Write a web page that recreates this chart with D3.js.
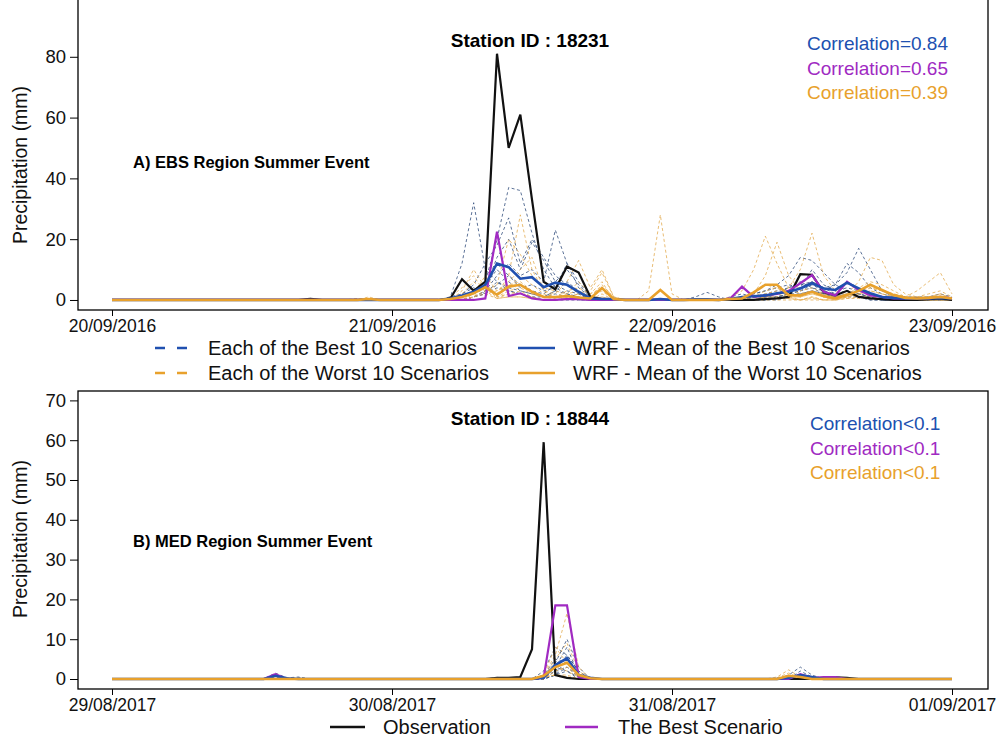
<!DOCTYPE html>
<html>
<head>
<meta charset="utf-8">
<script src="https://cdn.jsdelivr.net/npm/d3@7/dist/d3.min.js"></script>
<style>
  html, body { margin: 0; padding: 0; background: #fff; }
  svg { display: block; }
  text { font-family: 'Liberation Sans', Arial, sans-serif; }
</style>
</head>
<body>
<svg id="chart" width="997" height="740"></svg>
<script>
// ---------- data: hourly precipitation (mm), 73 hours per event ----------
const D0 = [0,0,0,0,0,0,0,0,0,0,0,0,0,0,0,0,0,0,0,0,0,0,0,0];

// Event A — station 18231, 20/09/2016 00:00 .. 23/09/2016 00:00
const dayLabelsA = ["20/09/2016", "21/09/2016", "22/09/2016", "23/09/2016"];
const yTicksA = [0, 20, 40, 60, 80];
const correlationsA = ["Correlation=0.84", "Correlation=0.65", "Correlation=0.39"];

const obsA = [].concat(
  [0,0,0,0,0,0,0,0,0,0,0,0,0,0,0,0,0,0.4,0,0,0,0,0,0],
  [0,0,0,0,0,0.5,6.8,3,6,81,50,61,33,6,3.5,11,9,1,0.3,0,0,0,0,0],
  [0,0,0,0,0,0,0,0,0.3,0.5,1,8.5,8.3,2.5,1.5,3,1,0.5,0.3,0,0,0,0.3,0.5],
  [0]);
const bestA = [].concat(
  D0,
  [0,0,0,0,0,0,0,0,0.5,22.5,1.3,2.2,0.5,0,0,0.3,0.3,0,0,0,0,0,0,0],
  [0,0,0,0,0,0.5,4.4,1,1.5,2,3,5.5,8.2,2.7,1.5,6,3.3,1.5,1,0.5,0.5,0.5,0.5,1],
  [0.5]);
const meanBestA = [].concat(
  D0,
  [0,0,0,0,0,0.5,1.5,2.7,5,12,10.8,7,7.5,4.2,5.7,5,2.7,0.5,0.3,0.3,0,0,0,0.3],
  [0,0,0.2,0.2,0,0.3,1,1.2,1.5,2.2,2.7,3.8,5.5,3.8,3.3,5.7,3.8,2.2,1,0.7,0.5,0.5,0.5,0.7],
  [0.5]);
const meanWorstA = [].concat(
  [0,0,0,0,0,0,0,0,0,0,0,0,0,0,0,0,0,0,0,0,0,0,0.3,0],
  [0,0,0,0,0,0.3,1,2.2,4.2,1.7,4.4,5,2.7,1,1,1.3,0.8,0.5,3.9,0.3,0,0,0,3.3],
  [0,0,0,0,0,0.3,0.5,2.5,5,5,1.6,1.5,2.7,1.3,0.5,1.6,3,5,3.3,1.6,0.7,0.5,0.7,1],
  [0.5]);

// ten best-scoring WRF scenarios, event A
const bestRunA1 = [].concat(D0,
  [0,0,0,0,0,1,12,32,10,6,3,2,1,0,0,0,0,0,0,0,0,0,0,0],
  [0,0,0,0,0,0,1,2,3,5,8,14,13,9,5,3,2,1,0,0,0,0,0,1], [0]);
const bestRunA2 = [].concat(D0,
  [0,0,0,0,0,0,1,3,6,20,37,36,22,10,4,2,1,0,0,0,0,0,0,0],
  [0,0,0,0,0,0,0,1,2,3,4,5,6,4,5,12,9,4,2,1,0,0,0,0], [0]);
const bestRunA3 = [].concat(D0,
  [0,0,0,0,0,0,2,5,12,18,27,12,20,14,8,5,2,0,0,0,0,0,0,0],
  [0,0,0,0,0,0,0,0,1,2,4,6,4,3,5,9,17,10,3,1,1,0,0,1], [0]);
const bestRunA4 = [].concat(D0,
  [0,0,0,0,0,0,0,1,3,8,12,8,10,6,23,12,4,1,0,0,0,0,0,0],
  [0,0,0,0,0,1,2,1,1,2,3,4,10,5,3,4,3,2,1,1,1,1,1,2], [1]);
const bestRunA5 = [].concat(D0,
  [0,0,0,0,0,0,1,2,4,14,20,10,19,13,6,10,5,1,0,0,0,0,0,0],
  [0,0,0,0,0,0,1,2,3,4,5,4,6,4,3,6,4,2,1,0,0,0,0,0], [0]);
const bestRunA6 = [].concat(D0,
  [0,0,0,0,0,0,0,1,2,5,8,4,5,3,4,12,6,1,0,0,0,0,0,0],
  [0,0,0,0,0,0,0,0,1,1,2,3,5,3,2,3,2,1,0,0,0,0,1,1], [0]);
const bestRunA7 = [].concat(D0,
  [0,0,0,0,0,0,1,3,5,10,6,3,2,1,3,6,3,1,0,0,0,0,0,0],
  [0,0,0,0,0,0,0,1,1,1,2,2,3,2,1,2,1,1,0,0,0,0,0,0], [0]);
const bestRunA8 = [].concat(D0,
  [0,0,0,0,0,0,0,1,3,12,8,5,3,2,5,3,2,0,0,0,0,0,0,0],
  [0,0,1,2.5,1,0,0,0,1,2,3,4,6,4,2,3,2,1,0,0,0,0,0,0], [0]);
const bestRunA9 = [].concat(
  [0,0,0,0,0,0,0,0,0,0,0,0,0,0,0,0,0,0.5,0,0,0,0,0,0],
  [0,0,0,0,0,1,2,4,2,6,4,3,2,1,3,2,1,0,0,0,0,0,0,0],
  [0,0,0,0,0,0,0,0,0,1,2,3,4,2,1,2,1,0,0,0,0,0,0,0], [0]);
const bestRunA10 = [].concat(D0,
  [0,0,0,0,0,0,0,1,2,4,3,2,1,1,2,1,0,0,0,0,0,0,0,0],
  [0,0,0,0,0,0,0,0,0,0,1,2,3,2,1,1,1,0,0,0,0,0,0,0], [0]);

// ten worst-scoring WRF scenarios, event A
const worstRunA1 = [].concat(
  [0,0,0,0,0,0,0,0,0,0,0,0,0,0,0,0,0,0,0,0,0,0,1,0],
  [0,0,0,0,0,0,3,10,4,2,8,28,10,3,1,1,2,3,9,1,0,0,3,28],
  [2,0,0,0,0,0,0,1,3,4,2,1,3,1,0.5,1,2,3,2,1,0.5,0,0.5,1], [0.5]);
const worstRunA2 = [].concat(
  [0,0,0,0,0,0,0,0,0,0,0,0,0,0,0,0,0,0,0,0,0,0.5,0,0],
  [0,0,0,0,0,0,2,6,3,5,20,15,8,4,3,2,6,2,4,0,0,0,0,0],
  [0,0,0,0,0,1,3,10,21,12,4,2,3,1,1,2,3,5,3,2,1,0.5,0.5,1], [0.5]);
const worstRunA3 = [].concat(D0,
  [0,0,0,0,0,1,4,8,2,3,6,10,14,3,2,6,13,4,10,1,0,0,0,0],
  [0,0,0,0,0,0,0,2,8,19,8,3,4,2,1,2,4,6,5,3,1,1,2,3], [1]);
const worstRunA4 = [].concat(D0,
  [0,0,0,0,0,0,1,3,5,2,4,8,5,2,1,3,4,2,6,0,0,0,0,0],
  [0,0,0,0,0,0,0,0,1,2,4,10,22,8,3,2,3,4,3,2,1,1,1,2], [0.5]);
const worstRunA5 = [].concat(D0,
  [0,0,0,0,0,0,0,2,8,3,5,6,3,1,1,2,3,1,5,1,0,0,0,0],
  [0,0,0,0,0,0,0,0,0,0,0,0,0,0,1,2,6,14,13,5,2,1,1,2], [0.5]);
const worstRunA6 = [].concat(D0,
  [0,0,0,0,0,0,1,3,6,1,3,4,2,1,1,1,2,1,3,0,0,0,0,0],
  [0,0,0,0,0,0,1,2,5,4,1,1,2,1,0,1,2,3,2,1,1,3,6,9], [2]);
const worstRunA7 = [].concat(D0,
  [0,0,0,0,0,0,0,1,5,0.5,2,3,1,0,0.5,1,1,0,2,0,0,0,0,0],
  [0,0,0,0,0,0,0,1,2,3,1,1,2,1,0,1,2,4,3,1,0,0,0,0], [0]);
const worstRunA8 = [].concat(D0,
  [0,0,0,0,0,0,0,2,4,1,2,2,1,0,0,1,1,0,1,0,0,0,0,0],
  [0,0,0,0,0,0,0,1,1,2,1,0,1,0,0,1,1,2,1,1,0,0,0,0], [0]);
const worstRunA9 = [].concat(D0,
  [0,0,0,0,0,0,0,1,3,0.5,1,1,0.5,0,0,0.5,1,0,1,0,0,0,0,0],
  [0,0,0,0,0,0,0,0,1,1,0.5,0,1,0,0,0.5,1,1,1,0.5,0,0,0,0], [0]);
const worstRunA10 = [].concat(D0,
  [0,0,0,0,0,0,0,1,2,0.5,1,1,0.5,0,0,0.5,0.5,0,0.5,0,0,0,0,0],
  [0,0,0,0,0,0,0,0,0.5,1,0.5,0,0.5,0,0,0.5,0.5,1,0.5,0.5,0,0,0,0], [0]);

// Event B — station 18844, 29/08/2017 00:00 .. 01/09/2017 00:00
const dayLabelsB = ["29/08/2017", "30/08/2017", "31/08/2017", "01/09/2017"];
const yTicksB = [0, 10, 20, 30, 40, 50, 60, 70];
const correlationsB = ["Correlation<0.1", "Correlation<0.1", "Correlation<0.1"];

const obsB = [].concat(D0,
  [0,0,0,0,0,0,0,0,0,0.3,0.3,0.5,7.5,59.5,1,0.3,0,0,0,0,0,0,0,0],
  [0,0,0,0,0,0,0,0,0,0,0,0,0,0,0.4,0.3,0,0,0,0,0,0,0,0], [0]);
const bestB = [].concat(
  [0,0,0,0,0,0,0,0,0,0,0,0,0,0,1.2,0,0,0,0,0,0,0,0,0],
  [0,0,0,0,0,0,0,0,0,0,0,0,0,0.3,18.5,18.5,0.5,0,0,0,0,0,0,0],
  [0,0,0,0,0,0,0,0,0,0,0,1.2,0.3,0.5,0.5,0,0,0,0,0,0,0,0,0], [0]);
const meanBestB = [].concat(
  [0,0,0,0,0,0,0,0,0,0,0,0,0,0,0.8,0.2,0,0,0,0,0,0,0,0],
  [0,0,0,0,0,0,0,0,0,0,0,0,0,0.3,3.5,5.2,1,0.3,0,0,0,0,0,0],
  [0,0,0,0,0,0,0,0,0,0,0.3,1,0.5,0,0,0,0,0,0,0,0,0,0,0], [0]);
const meanWorstB = [].concat(D0,
  [0,0,0,0,0,0,0,0,0,0,0,0,0,0.8,3,4.1,1,0.2,0,0,0,0,0,0],
  [0,0,0,0,0,0,0,0,0,0,0.8,0.5,0,0,0,0,0,0,0,0,0,0,0,0], [0]);

const bestRunB1 = [].concat(
  [0,0,0,0,0,0,0,0,0,0,0,0,0,0,1.5,0.3,0.5,0,0,0,0,0,0,0],
  [0,0,0,0,0,0,0,0,0,0,0,0,0,1,4,10,3,0,0,0,0,0,0,0],
  [0,0,0,0,0,0,0,0,0,0,1,3,1,0,0,0,0,0,0,0,0,0,0,0], [0]);
const bestRunB2 = [].concat(
  [0,0,0,0,0,0,0,0,0,0,0,0,0,0,1,0,0.3,0,0,0,0,0,0,0],
  [0,0,0,0,0,0,0,0,0,0.4,0.3,0,0,2,8,6,2,0,0,0,0,0,0,0],
  [0,0,0,0,0,0,0,0,0,0,0,2,0.5,0,0,0,0,0,0,0,0,0,0,0], [0]);
const bestRunB3 = [].concat(
  [0,0,0,0,0,0,0,0,0,0,0,0,0,0,0.5,0,0,0,0,0,0,0,0,0],
  [0,0,0,0,0,0,0,0,0,0,0,0,0,0.5,3,8,1,0,0,0,0,0,0,0],
  [0,0,0,0,0,0,0,0,0,0,0.5,1,0,0,0,0,0,0,0,0,0,0,0,0], [0]);
const bestRunB4 = [].concat(D0,
  [0,0,0,0,0,0,0,0,0,0,0,0,0,1,5,4,1,0,0,0,0,0,0,0], D0, [0]);
const bestRunB5 = [].concat(D0,
  [0,0,0,0,0,0,0,0,0,0,0,0,0,0,2,6,2,0,0,0,0,0,0,0], D0, [0]);
const bestRunB6 = [].concat(D0,
  [0,0,0,0,0,0,0,0,0,0,0,0,0,0.5,2,3,1,0,0,0,0,0,0,0], D0, [0]);
const bestRunB7 = [].concat(D0,
  [0,0,0,0,0,0,0,0,0,0,0,0,0,0,1,5,1,0,0,0,0,0,0,0], D0, [0]);
const bestRunB8 = [].concat(D0,
  [0,0,0,0,0,0,0,0,0,0,0,0,0,0,3,2,0,0,0,0,0,0,0,0], D0, [0]);
const bestRunB9 = [].concat(D0,
  [0,0,0,0,0,0,0,0,0,0,0,0,0,0,1,3,0.5,0,0,0,0,0,0,0], D0, [0]);
const bestRunB10 = [].concat(D0,
  [0,0,0,0,0,0,0,0,0,0,0,0,0,0,1,2,0.5,0,0,0,0,0,0,0], D0, [0]);

const worstRunB1 = [].concat(D0,
  [0,0,0,0,0,0,0,0,0,0,0,0,0,1,6,16.5,3,0,0,0,0,0,0,0],
  [0,0,0,0,0,0,0,0,0,0.5,2.3,0.5,0,0,0,0,0,0,0,0,0,0,0,0], [0]);
const worstRunB2 = [].concat(D0,
  [0,0,0,0,0,0,0,0,0,0,0,0,0,0.5,5,9,2,0,0,0,0,0,0,0],
  [0,0,0,0,0,0,0,0,0,0.3,1.5,0.3,0,0,0,0,0,0,0,0,0,0,0,0], [0]);
const worstRunB3 = [].concat(D0,
  [0,0,0,0,0,0,0,0,0,0,0,0,0,1,8,4,1,0,0,0,0,0,0,0],
  [0,0,0,0,0,0,0,0,0,0,1,0,0,0,0,0,0,0,0,0,0,0,0,0], [0]);
const worstRunB4 = [].concat(D0,
  [0,0,0,0,0,0,0,0,0,0,0,0,0,0.5,3,5,1,0,0,0,0,0,0,0], D0, [0]);
const worstRunB5 = [].concat(D0,
  [0,0,0,0,0,0,0,0,0,0,0,0,0,0,2,3,0.5,0,0,0,0,0,0,0], D0, [0]);
const worstRunB6 = [].concat(D0,
  [0,0,0,0,0,0,0,0,0,0,0,0,0,1,3,2,0.5,0,0,0,0,0,0,0], D0, [0]);
const worstRunB7 = [].concat(D0,
  [0,0,0,0,0,0,0,0,0,0,0,0,0,0.5,1,1,0,0,0,0,0,0,0,0], D0, [0]);
const worstRunB8 = [].concat(D0,
  [0,0,0,0,0,0,0,0,0,0,0,0,0,0.5,1,0.5,0,0,0,0,0,0,0,0], D0, [0]);
const worstRunB9 = [].concat(D0,
  [0,0,0,0,0,0,0,0,0,0,0,0,0,0.5,1,0.5,0,0,0,0,0,0,0,0], D0, [0]);
const worstRunB10 = [].concat(D0,
  [0,0,0,0,0,0,0,0,0,0,0,0,0,0.5,1,0.5,0,0,0,0,0,0,0,0], D0, [0]);

// ---------- styling ----------
const BLUE = "#2050b0", PURPLE = "#a02ac2", ORANGE = "#e8a12c", BLACK = "#111";
const BLUE_RUN = "#35507e", ORANGE_RUN = "#e4ad52";

const svg = d3.select("#chart");

function drawPanel(cfg) {
  const x = d3.scaleUtc()
    .domain([cfg.start, d3.utcHour.offset(cfg.start, cfg.obs.length - 1)])
    .range([112, 952]);
  const y = d3.scaleLinear().domain(cfg.yDomain).range([cfg.bottom, cfg.top]);
  const time = i => d3.utcHour.offset(cfg.start, i);
  const line = d3.line().x((d, i) => x(time(i))).y(d => y(d));

  const g = svg.append("g");
  const clipId = "clip-" + cfg.id;
  g.append("clipPath").attr("id", clipId)
    .append("rect").attr("x", 78).attr("y", cfg.top)
    .attr("width", 910).attr("height", cfg.bottom - cfg.top);

  const plot = g.append("g").attr("clip-path", `url(#${clipId})`);

  cfg.bestRuns.forEach(s => plot.append("path").datum(s).attr("d", line)
    .attr("fill", "none").attr("stroke", BLUE_RUN).attr("stroke-width", 1)
    .attr("stroke-dasharray", "3,2.5").attr("opacity", 0.8));
  cfg.worstRuns.forEach(s => plot.append("path").datum(s).attr("d", line)
    .attr("fill", "none").attr("stroke", ORANGE_RUN).attr("stroke-width", 1)
    .attr("stroke-dasharray", "3,2.5").attr("opacity", 0.8));

  const solid = [
    [cfg.obs, BLACK, 2.2],
    [cfg.best, PURPLE, 2.2],
    [cfg.meanBest, BLUE, 2.6],
    [cfg.meanWorst, ORANGE, 2.6]
  ];
  solid.forEach(([s, c, w]) => plot.append("path").datum(s).attr("d", line)
    .attr("fill", "none").attr("stroke", c).attr("stroke-width", w)
    .attr("stroke-linejoin", "miter"));

  // frame
  g.append("rect").attr("x", 78).attr("y", cfg.top)
    .attr("width", 910).attr("height", cfg.bottom - cfg.top)
    .attr("fill", "none").attr("stroke", "#000").attr("stroke-width", 1.3);

  // y axis
  const ya = g.append("g").attr("transform", "translate(78,0)")
    .call(d3.axisLeft(y).tickValues(cfg.yTicks).tickSize(8).tickPadding(4));
  ya.select(".domain").remove();
  ya.selectAll("line").attr("stroke", "#000").attr("stroke-width", 1);
  ya.selectAll("text").attr("font-size", 18.5).attr("fill", "#111")
    .attr("font-family", "'Liberation Sans', Arial, sans-serif");

  // x axis (one tick per day)
  const days = cfg.dayLabels.map((_, i) => d3.utcDay.offset(cfg.start, i));
  const xa = g.append("g").attr("transform", `translate(0,${cfg.bottom})`)
    .call(d3.axisBottom(x).tickValues(days).tickSize(6).tickPadding(4)
      .tickFormat((d, i) => cfg.dayLabels[i]));
  xa.select(".domain").remove();
  xa.selectAll("line").attr("stroke", "#000").attr("stroke-width", 1);
  xa.selectAll("text").attr("font-size", 17.5).attr("fill", "#111")
    .attr("font-family", "'Liberation Sans', Arial, sans-serif");

  // y title
  g.append("text")
    .attr("transform", `translate(27,${cfg.titleY}) rotate(-90)`)
    .attr("text-anchor", "middle").attr("font-size", 19.5).attr("fill", "#111")
    .text("Precipitation (mm)");

  // station title
  g.append("text").attr("x", 530).attr("y", cfg.stationY)
    .attr("text-anchor", "middle").attr("font-weight", "bold")
    .attr("font-size", 19).attr("fill", "#000").text(cfg.station);

  // event label
  g.append("text").attr("x", 133).attr("y", cfg.eventY)
    .attr("font-weight", "bold").attr("font-size", 16.5).attr("fill", "#000")
    .text(cfg.event);

  // correlations
  const corrColors = [BLUE, PURPLE, ORANGE];
  cfg.correlations.forEach((t, i) => g.append("text")
    .attr("x", cfg.corrX).attr("y", cfg.corrY + i * 24.5)
    .attr("font-size", 19).attr("fill", corrColors[i]).text(t));
}

drawPanel({
  id: "a", start: new Date(Date.UTC(2016, 8, 20)),
  top: -2, bottom: 310, yDomain: [-3.3, 99.34], yTicks: yTicksA,
  dayLabels: dayLabelsA, titleY: 165,
  station: "Station ID : 18231", stationY: 47,
  event: "A) EBS Region Summer Event", eventY: 168,
  correlations: correlationsA, corrX: 807, corrY: 50,
  obs: obsA, best: bestA, meanBest: meanBestA, meanWorst: meanWorstA,
  bestRuns: [bestRunA1, bestRunA2, bestRunA3, bestRunA4, bestRunA5,
             bestRunA6, bestRunA7, bestRunA8, bestRunA9, bestRunA10],
  worstRuns: [worstRunA1, worstRunA2, worstRunA3, worstRunA4, worstRunA5,
              worstRunA6, worstRunA7, worstRunA8, worstRunA9, worstRunA10]
});

drawPanel({
  id: "b", start: new Date(Date.UTC(2017, 7, 29)),
  top: 391, bottom: 689, yDomain: [-2.51, 72.36], yTicks: yTicksB,
  dayLabels: dayLabelsB, titleY: 539,
  station: "Station ID : 18844", stationY: 425,
  event: "B) MED Region Summer Event", eventY: 547,
  correlations: correlationsB, corrX: 810, corrY: 430,
  obs: obsB, best: bestB, meanBest: meanBestB, meanWorst: meanWorstB,
  bestRuns: [bestRunB1, bestRunB2, bestRunB3, bestRunB4, bestRunB5,
             bestRunB6, bestRunB7, bestRunB8, bestRunB9, bestRunB10],
  worstRuns: [worstRunB1, worstRunB2, worstRunB3, worstRunB4, worstRunB5,
              worstRunB6, worstRunB7, worstRunB8, worstRunB9, worstRunB10]
});

// ---------- legends ----------
const legendTop = [
  { label: "Each of the Best 10 Scenarios", color: BLUE, dashed: true, col: 0, row: 0 },
  { label: "WRF - Mean of the Best 10 Scenarios", color: BLUE, dashed: false, col: 1, row: 0 },
  { label: "Each of the Worst 10 Scenarios", color: ORANGE, dashed: true, col: 0, row: 1 },
  { label: "WRF - Mean of the Worst 10 Scenarios", color: ORANGE, dashed: false, col: 1, row: 1 }
];
const legendBottom = [
  { label: "Observation", color: BLACK, dashed: false },
  { label: "The Best Scenario", color: PURPLE, dashed: false }
];

const topCols = [{ x0: 155, x1: 188, tx: 208 }, { x0: 518, x1: 555, tx: 573 }];
const topRows = [348, 373];
const lgTop = svg.append("g");
legendTop.forEach(d => {
  const c = topCols[d.col], yy = topRows[d.row];
  lgTop.append("line").attr("x1", c.x0).attr("x2", c.x1).attr("y1", yy).attr("y2", yy)
    .attr("stroke", d.color).attr("stroke-width", 2.6)
    .attr("stroke-dasharray", d.dashed ? "10,12" : null);
  lgTop.append("text").attr("x", c.tx).attr("y", yy).attr("dy", "0.35em")
    .attr("font-size", 20).attr("fill", "#111").text(d.label);
});

const bottomCols = [{ x0: 330, x1: 365, tx: 383 }, { x0: 565, x1: 598, tx: 618 }];
const lgBottom = svg.append("g");
legendBottom.forEach((d, i) => {
  const c = bottomCols[i], yy = 727;
  lgBottom.append("line").attr("x1", c.x0).attr("x2", c.x1).attr("y1", yy).attr("y2", yy)
    .attr("stroke", d.color).attr("stroke-width", 2.6);
  lgBottom.append("text").attr("x", c.tx).attr("y", yy).attr("dy", "0.35em")
    .attr("font-size", 20).attr("fill", "#111").text(d.label);
});
</script>
</body>
</html>
